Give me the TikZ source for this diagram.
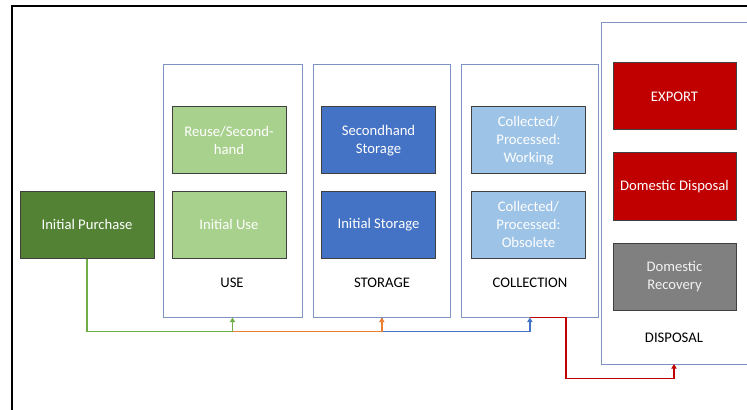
\documentclass[tikz,border=0pt]{standalone}
\usepackage{fontspec}
\setmainfont{Carlito}
\usetikzlibrary{arrows.meta, positioning}
\definecolor{darkgreen}{HTML}{548235}
\definecolor{lightgreen}{HTML}{A9D18E}
\definecolor{midblue}{HTML}{4472C4}
\definecolor{paleblue}{HTML}{9DC3E6}
\definecolor{darkred}{HTML}{C00000}
\definecolor{midgray}{HTML}{808080}
\definecolor{boxedge}{HTML}{404040}
\definecolor{stageedge}{HTML}{7F93C2}
\definecolor{linegreen}{HTML}{70AD47}
\definecolor{lineorange}{HTML}{ED7D31}
\definecolor{lineblue}{HTML}{4472C4}
\definecolor{linered}{HTML}{C00000}
\tikzstyle{block} = [draw=boxedge, rectangle, line width=0.75pt, text=white, align=center, inner sep=0pt, minimum width=85.5pt, minimum height=50.25pt]
\tikzstyle{stage} = [draw=stageedge, rectangle, line width=0.75pt, minimum height=189pt]
\tikzstyle{flow} = [line width=1.1pt, -{Triangle[length=3.5pt,width=4pt]}]

\begin{document}
\begin{tikzpicture}[x=0.75pt, y=-0.75pt, font=\fontsize{11}{13.3}\selectfont]
    \useasboundingbox (0,0) rectangle (747,410);
    \draw[line width=1.5pt] (12,410) -- (12,6) -- (747,6);
    % stages
    \node[stage, minimum width=104.25pt] (use) at (232.5,191) {};
    \node[stage, minimum width=102.5pt] (storage) at (381.8,191) {};
    \node[stage, minimum width=102.3pt] (collection) at (529.9,191) {};
    \draw[stageedge, line width=0.75pt] (747,23) -- (601,23) -- (601,364) -- (747,364);
    \coordinate (disposal) at (674,364);
    % boxes
    \node[block, fill=darkgreen, minimum width=100.5pt] (buy) at (87,224.5) {Initial Purchase};
    \node[block, fill=lightgreen] (reuse) at (229,140.5) {Reuse/Second-\\hand};
    \node[block, fill=lightgreen] (inituse) at (229,224.5) {Initial Use};
    \node[block, fill=midblue] (secstore) at (378.5,140.5) {Secondhand\\Storage};
    \node[block, fill=midblue] (initstore) at (378.5,224.5) {Initial Storage};
    \node[block, fill=paleblue] (working) at (528.5,140.5) {Collected/\\Processed:\\Working};
    \node[block, fill=paleblue] (obsolete) at (528.5,224.5) {Collected/\\Processed:\\Obsolete};
    \node[block, fill=darkred, minimum width=92.25pt] (export) at (674.5,96.5) {EXPORT};
    \node[block, fill=darkred, minimum width=92.25pt] (domdisp) at (674.5,186.5) {Domestic Disposal};
    \node[block, fill=midgray, minimum width=92.25pt, text=white!95!black] (domrec) at (674.5,276.5) {Domestic\\Recovery};
    % labels
    \node (uselabel) at (232,283) {USE};
    \node (storelabel) at (382,283) {STORAGE};
    \node (collabel) at (530,283) {COLLECTION};
    \node (displabel) at (674,338) {DISPOSAL};
    % flows (drawn back to front)
    \draw[flow, linered] (collection.south) -- ++(36,0) -- ++(0,61) -| (disposal);
    \draw[flow, lineblue] (storage.south) -- ++(0,14) -| (collection.south);
    \draw[flow, lineorange] (use.south) -- ++(0,14) -| (storage.south);
    \draw[flow, linegreen] (buy.south) -- ++(0,73) -| (use.south);
\end{tikzpicture}
\end{document}
